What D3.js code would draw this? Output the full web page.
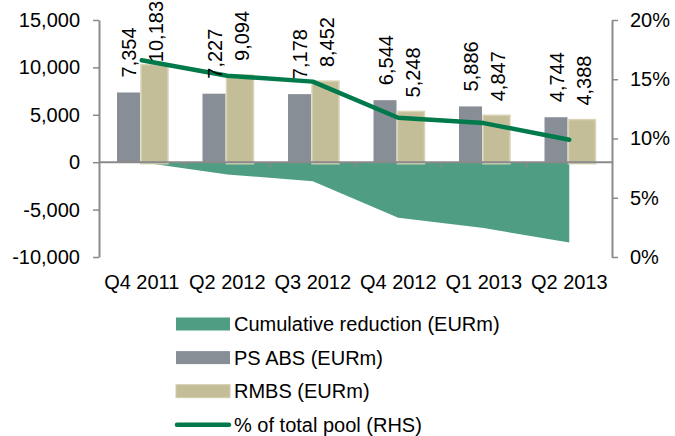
<!DOCTYPE html>
<html>
<head>
<meta charset="utf-8">
<script src="https://cdn.jsdelivr.net/npm/d3@7"></script>
<style>
  body { margin: 0; background: #fff; }
  svg text { font-family: "Liberation Sans", Arial, sans-serif; fill: #000; }
</style>
</head>
<body>
<svg id="Chart" width="675" height="436"></svg>
<script>
let quarters = ["Q4 2011", "Q2 2012", "Q3 2012", "Q4 2012", "Q1 2013", "Q2 2013"]
let psAbs = [7354, 7227, 7178, 6544, 5886, 4744]
let rmbs = [10183, 9094, 8452, 5248, 4847, 4388]
let cumReduction = [0, -1300, -2000, -5850, -6950, -8480]
let pctPool = [16.6, 15.3, 14.8, 11.75, 11.3, 9.9]

let leftTicks = [-10000, -5000, 0, 5000, 10000, 15000]
let leftTickLabels = ["-10,000", "-5,000", "0", "5,000", "10,000", "15,000"]
let rightTicks = [0, 5, 10, 15, 20]
let rightTickLabels = ["0%", "5%", "10%", "15%", "20%"]

let legendItems = [
  { name: "Cumulative reduction (EURm)", type: "area" },
  { name: "PS ABS (EURm)", type: "ps" },
  { name: "RMBS (EURm)", type: "rmbs" },
  { name: "% of total pool (RHS)", type: "line" }
]

let colors = { area: "#4f9e84", ps: "#878e96", rmbs: "#c3bd98", line: "#007a4b", axis: "#8a8a8a" }

let svg = d3.select("#Chart")
let plotLeft = 99, plotRight = 612, plotTop = 20, plotBottom = 257

let x = d3.scaleBand().domain(quarters).range([plotLeft, plotRight]).padding(0)
let sub = d3.scaleBand().domain(["ps", "rmbs"]).range([18, 70])
let y = d3.scaleLinear().domain([-10000, 15000]).range([plotBottom, plotTop])
let y2 = d3.scaleLinear().domain([0, 20]).range([plotBottom, plotTop])
let cx = q => x(q) + x.bandwidth() / 2

// area
let area = d3.area()
  .x((d, i) => cx(quarters[i]))
  .y0(y(0))
  .y1(d => y(d))
svg.append("path")
  .datum(cumReduction)
  .attr("d", area)
  .attr("fill", colors.area)

// bars
let groups = svg.selectAll(".grp").data(quarters).enter().append("g")
  .attr("transform", d => `translate(${x(d)},0)`)

groups.append("rect")
  .attr("x", sub("ps"))
  .attr("width", sub.bandwidth() - 3)
  .attr("y", (d, i) => y(psAbs[i]))
  .attr("height", (d, i) => y(0) - y(psAbs[i]))
  .attr("fill", colors.ps)

groups.append("rect")
  .attr("x", sub("rmbs") - 2)
  .attr("width", sub.bandwidth() + 1)
  .attr("y", (d, i) => y(rmbs[i]) - 1)
  .attr("height", (d, i) => y(0) - y(rmbs[i]) + 2.5)
  .attr("fill", colors.rmbs)
  .attr("stroke", "#d9d4b8")
  .attr("stroke-width", 1.5)

// zero line and boundary ticks
svg.append("line")
  .attr("x1", plotLeft).attr("x2", plotRight)
  .attr("y1", y(0)).attr("y2", y(0))
  .attr("stroke", colors.axis).attr("stroke-width", 2)

svg.selectAll(".bt").data(quarters.slice(1)).enter().append("line")
  .attr("x1", d => x(d)).attr("x2", d => x(d))
  .attr("y1", y(0)).attr("y2", y(0) + 5)
  .attr("stroke", colors.axis).attr("stroke-width", 1.5)

// axes
function styleAxis(g) {
  g.select(".domain").attr("stroke", colors.axis).attr("stroke-width", 2)
  g.selectAll(".tick line").attr("stroke", colors.axis).attr("stroke-width", 1.5)
  g.selectAll(".tick text").attr("font-size", 20).attr("font-family", "Liberation Sans, Arial, sans-serif").attr("fill", "#000")
}

let axisL = d3.axisLeft(y).tickValues(leftTicks)
  .tickFormat((d, i) => leftTickLabels[i]).tickSize(6).tickSizeOuter(0).tickPadding(13)
svg.append("g").attr("transform", `translate(${plotLeft},0)`).call(axisL).call(styleAxis)

let axisR = d3.axisRight(y2).tickValues(rightTicks)
  .tickFormat((d, i) => rightTickLabels[i]).tickSize(6).tickSizeOuter(0).tickPadding(12)
svg.append("g").attr("transform", `translate(${plotRight},0)`).call(axisR).call(styleAxis)

let axisX = d3.axisBottom(x).tickSize(0).tickPadding(18)
let gx = svg.append("g").attr("transform", `translate(0,${plotBottom})`).call(axisX).call(styleAxis)
gx.select(".domain").remove()

// line
let line = d3.line()
  .x((d, i) => cx(quarters[i]))
  .y(d => y2(d))
svg.append("path")
  .datum(pctPool)
  .attr("d", line)
  .attr("fill", "none")
  .attr("stroke", colors.line)
  .attr("stroke-width", 4.5)
  .attr("stroke-linejoin", "round")
  .attr("stroke-linecap", "round")

// data labels
function addLabels(values, key) {
  values.forEach((v, i) => {
    let bx = x(quarters[i]) + sub(key) + (key == "ps" ? (sub.bandwidth() - 3) / 2 : (sub.bandwidth() - 1) / 2)
    let t = svg.append("text")
      .attr("font-size", 20)
      .attr("dy", "0.38em")
      .text(d3.format(",")(v))
    let len = t.node().getComputedTextLength()
    let by = Math.max(y(v) - 15, len + 1)
    t.attr("transform", `translate(${bx},${by}) rotate(-90)`)
  })
}
addLabels(psAbs, "ps")
addLabels(rmbs, "rmbs")

// legend
let legend = svg.selectAll(".leg").data(legendItems).enter().append("g")
  .attr("transform", (d, i) => `translate(176,${324 + i * 33.6})`)

legend.each(function(d) {
  let g = d3.select(this)
  if (d.type == "line") {
    g.append("line").attr("x1", 1).attr("x2", 53).attr("y1", 0).attr("y2", 0)
      .attr("stroke", colors.line).attr("stroke-width", 4.5).attr("stroke-linecap", "round")
  } else {
    g.append("rect").attr("x", 0).attr("y", -6.5).attr("width", 54).attr("height", 13)
      .attr("fill", colors[d.type])
      .attr("stroke", d.type == "rmbs" ? "#d2ccae" : "none")
  }
  g.append("text").attr("x", 58).attr("dy", "0.36em").attr("font-size", 20).text(d.name)
})
</script>
</body>
</html>
